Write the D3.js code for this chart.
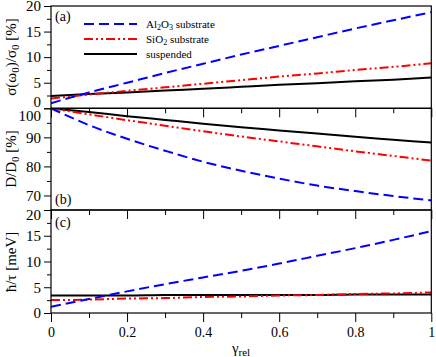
<!DOCTYPE html>
<html>
<head>
<meta charset="utf-8">
<script src="https://cdn.jsdelivr.net/npm/d3@7"></script>
<style>
  body { margin: 0; background: #fff; }
  text { font-family: "Liberation Serif", "DejaVu Serif", serif; }
</style>
</head>
<body>
<div id="chart"></div>
<script>
const gamma = [0, 0.1, 0.2, 0.3, 0.4, 0.5, 0.6, 0.7, 0.8, 0.9, 1];

// (a) sigma(omega0)/sigma0 [%]
const sigmaAl2O3 = [1.0, 3.1, 5.0, 6.9, 8.7, 10.5, 12.2, 13.9, 15.6, 17.2, 18.8];
const sigmaSiO2 = [1.9, 2.7, 3.4, 4.1, 4.8, 5.5, 6.2, 6.8, 7.5, 8.1, 8.8];
const sigmaSusp = [2.4, 2.8, 3.1, 3.5, 3.8, 4.2, 4.6, 4.9, 5.3, 5.6, 6.0];

// (b) D/D0 [%]
const drudeAl2O3 = [100, 94.2, 89.5, 85.4, 81.6, 78.5, 75.8, 73.4, 71.5, 69.8, 68.3];
const drudeSiO2 = [100, 97.9, 95.9, 94.0, 92.1, 90.3, 88.6, 86.9, 85.2, 83.6, 82.0];
const drudeSusp = [100, 98.7, 97.3, 96.0, 94.7, 93.5, 92.4, 91.3, 90.2, 89.2, 88.2];

// (c) hbar/tau [meV]
const tauAl2O3 = [1.2, 2.7, 4.2, 5.6, 6.9, 8.2, 9.6, 11.1, 12.6, 14.2, 15.9];
const tauSiO2 = [2.5, 2.6, 2.8, 2.9, 3.1, 3.2, 3.4, 3.5, 3.7, 3.8, 4.0];
const tauSusp = [3.4, 3.4, 3.4, 3.5, 3.5, 3.5, 3.5, 3.5, 3.6, 3.6, 3.6];

const xMajor = [0, 0.2, 0.4, 0.6, 0.8, 1];
const xMinor = [0.1, 0.3, 0.5, 0.7, 0.9];
const yTicksA = [0, 5, 10, 15, 20];
const yTicksB = [70, 80, 90, 100];
const yTicksC = [0, 5, 10, 15, 20];

const legendLabels = [
  [["Al", 0], ["2", 1], ["O", 0], ["3", 1], [" substrate", 0]],
  [["SiO", 0], ["2", 1], [" substrate", 0]],
  [["suspended", 0]]
];

const W = 436, H = 357;
const left = 51, right = 431.3;

const styles = [
  { color: '#0000ff', dash: '10,5', width: 2 },
  { color: '#ff0000', dash: '9,3,2,3,2,3', width: 2 },
  { color: '#000000', dash: null, width: 2 }
];

const panels = [
  { top: 6, bottom: 108.3, domain: [0, 20], ticks: yTicksA, minor: [2.5, 7.5, 12.5, 17.5],
    series: [sigmaAl2O3, sigmaSiO2, sigmaSusp], label: '(a)', labelY: 21, shift: { 0: -7 } },
  { top: 108.3, bottom: 210, domain: [65, 100], ticks: yTicksB, minor: [75, 85, 95],
    series: [drudeAl2O3, drudeSiO2, drudeSusp], label: '(b)', labelY: 204, shift: { 100: 7 } },
  { top: 210, bottom: 313, domain: [0, 20], ticks: yTicksC, minor: [2.5, 7.5, 12.5, 17.5],
    series: [tauAl2O3, tauSiO2, tauSusp], label: '(c)', labelY: 227, shift: { 20: 5 } }
];

const svg = d3.select('#chart').append('svg')
  .attr('width', W)
  .attr('height', H);

const x = d3.scaleLinear().domain([0, 1]).range([left, right]);

panels.forEach((p, pi) => {
  const y = d3.scaleLinear().domain(p.domain).range([p.bottom, p.top]);

  const clipId = 'clip' + pi;
  svg.append('clipPath').attr('id', clipId)
    .append('rect')
    .attr('x', left).attr('y', p.top)
    .attr('width', right - left).attr('height', p.bottom - p.top);

  const line = d3.line()
    .x((d, i) => x(gamma[i]))
    .y(d => y(d))
    .curve(d3.curveMonotoneX);

  const g = svg.append('g').attr('clip-path', `url(#${clipId})`);
  // black first so the coloured lines sit on top where they cross
  [2, 1, 0].forEach(si => {
    g.append('path')
      .datum(p.series[si])
      .attr('d', line)
      .attr('fill', 'none')
      .attr('stroke', styles[si].color)
      .attr('stroke-width', styles[si].width)
      .attr('stroke-dasharray', styles[si].dash);
  });

  // frame
  svg.append('rect')
    .attr('x', left).attr('y', p.top)
    .attr('width', right - left).attr('height', p.bottom - p.top)
    .attr('fill', 'none')
    .attr('stroke', '#000')
    .attr('stroke-width', 1.2);

  // x axis, ticks hang down from each panel's bottom
  const xg = svg.append('g').attr('transform', `translate(0,${p.bottom})`);
  xg.call(d3.axisBottom(x).tickValues(xMajor).tickSize(9)
    .tickFormat(pi === 2 ? (d => d3.format('~g')(d)) : ''));
  xg.append('g').call(d3.axisBottom(x).tickValues(xMinor).tickSize(5).tickFormat(''));
  xg.selectAll('.domain').remove();
  xg.selectAll('line').attr('stroke', '#000');
  xg.selectAll('text')
    .attr('font-size', 14)
    .attr('fill', '#000')
    .attr('font-family', '"Liberation Serif", serif')
    .attr('y', 14);

  // y axis
  const yg = svg.append('g').attr('transform', `translate(${left},0)`);
  yg.call(d3.axisLeft(y).tickValues(p.ticks).tickSize(7).tickPadding(3));
  yg.append('g').call(d3.axisLeft(y).tickValues(p.minor).tickSize(4).tickFormat(''));
  yg.selectAll('.domain').remove();
  yg.selectAll('line').attr('stroke', '#000');
  yg.selectAll('text')
    .attr('font-size', 15)
    .attr('fill', '#000')
    .attr('font-family', '"Liberation Serif", serif')
    .attr('dy', d => (0.32 + (p.shift[d] || 0) / 15) + 'em');

  svg.append('text')
    .attr('x', 55).attr('y', p.labelY)
    .attr('font-size', 14)
    .text(p.label);
});

// y-axis titles
function yTitle(cy, parts) {
  const t = svg.append('text')
    .attr('transform', `translate(16,${cy}) rotate(-90)`)
    .attr('text-anchor', 'middle')
    .attr('font-size', 15);
  parts.forEach(([s, sub]) => {
    t.append('tspan')
      .attr('baseline-shift', sub ? '-25%' : null)
      .attr('font-size', sub ? 11 : null)
      .text(s);
  });
}
yTitle(57, [['σ(ω', 0], ['0', 1], [')/σ', 0], ['0', 1], [' [%]', 0]]);
yTitle(159, [['D/D', 0], ['0', 1], [' [%]', 0]]);
yTitle(262, [['ħ/τ [meV]', 0]]);

// x-axis title
const xt = svg.append('text')
  .attr('x', 241).attr('y', 353)
  .attr('text-anchor', 'middle')
  .attr('font-size', 15);
xt.append('tspan').text('γ');
xt.append('tspan').attr('baseline-shift', '-25%').attr('font-size', 11).text('rel');

// legend
const legendRows = [24, 39, 54];
legendRows.forEach((ly, i) => {
  svg.append('line')
    .attr('x1', 84).attr('x2', 137)
    .attr('y1', ly).attr('y2', ly)
    .attr('stroke', styles[i].color)
    .attr('stroke-width', styles[i].width)
    .attr('stroke-dasharray', styles[i].dash);
  const t = svg.append('text')
    .attr('x', 146).attr('y', ly + 4)
    .attr('font-size', 11);
  legendLabels[i].forEach(([s, sub]) => {
    t.append('tspan')
      .attr('baseline-shift', sub ? '-25%' : null)
      .attr('font-size', sub ? 8 : null)
      .text(s);
  });
});
</script>
</body>
</html>
